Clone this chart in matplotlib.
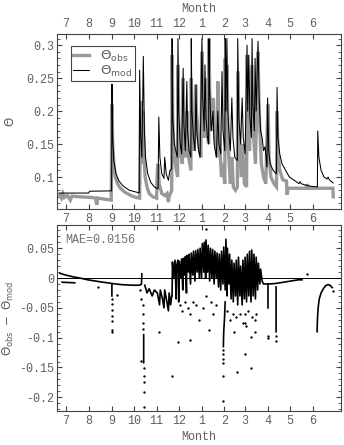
"""
Observed vs modelled soil moisture and their residual
"""

import numpy as np
import matplotlib
matplotlib.use('Agg')
import matplotlib.pyplot as plt
from matplotlib.ticker import FixedLocator, MultipleLocator, FuncFormatter

# days since 1 July; month starts used as ticks
month_start = [0, 31, 62, 92, 123, 153, 184, 215, 243, 274, 304, 335]
month_label = ['7', '8', '9', '10', '11', '12', '1', '2', '3', '4', '5', '6']

# modelled theta (vertices)
mod_day = [-8, 31, 32, 62, 62.5, 63.5, 65, 68, 72, 78, 86, 99.5,
           100, 101.5, 103, 104, 105, 106.5, 108, 111, 115, 120, 125,
           126, 127.5, 130, 133, 134, 136, 139, 141, 143.5,
           144, 145, 147, 149, 151, 152, 153, 155, 157, 159, 160, 162,
           164, 165, 167, 169.5, 170, 171, 173, 175, 176.4, 177.5, 180,
           182, 184.5, 185.5, 187.5, 188.6, 190, 192, 193.5, 194, 195,
           197, 199.5, 201, 204, 206, 207.5, 210, 211.7, 213, 215.5, 216,
           217, 218.3, 219.5, 221.5, 223, 225, 226.5, 229, 232.5, 233,
           234.5, 237, 239, 240.5, 243, 245.6, 246.5, 248, 249.5, 251.5,
           252.4, 253.5, 255.5, 256.5, 258, 260.5, 262, 264, 266, 268,
           270, 272.6, 273.5, 275, 277, 281, 285.5, 286.3, 287.5, 290,
           293, 297, 303, 311, 316, 317.5, 319, 324, 332, 341, 341.5,
           343, 346, 350, 354, 355.5, 357, 362.3]
mod_val = [0.0757, 0.0757, 0.0785, 0.079, 0.241, 0.16, 0.125, 0.105, 0.094,
           0.086, 0.080, 0.076,
           0.262, 0.16, 0.13, 0.20, 0.283, 0.17, 0.13, 0.105, 0.092, 0.085,
           0.082,
           0.191, 0.13, 0.105, 0.098, 0.13, 0.105, 0.095, 0.11, 0.112,
           0.31, 0.19, 0.15, 0.14, 0.13, 0.31, 0.2, 0.15, 0.135, 0.265,
           0.18, 0.14,
           0.245, 0.17, 0.14, 0.13, 0.31, 0.2, 0.16, 0.14, 0.24, 0.17, 0.14,
           0.13, 0.31, 0.22, 0.17, 0.27, 0.19, 0.16, 0.15, 0.31, 0.23,
           0.17, 0.20, 0.15, 0.13, 0.2, 0.15, 0.135, 0.26, 0.17, 0.14, 0.31,
           0.2, 0.31, 0.2, 0.16, 0.14, 0.22, 0.16, 0.13, 0.125, 0.31,
           0.19, 0.15, 0.22, 0.16, 0.135, 0.30, 0.2, 0.285, 0.19, 0.16,
           0.31, 0.21, 0.17, 0.28, 0.2, 0.306, 0.22, 0.17, 0.16, 0.14,
           0.146, 0.115, 0.22, 0.14, 0.12, 0.11, 0.105, 0.236, 0.16, 0.135,
           0.12, 0.112, 0.10, 0.094, 0.09, 0.093, 0.09, 0.088, 0.086, 0.085,
           0.17, 0.13, 0.11, 0.10, 0.097, 0.100, 0.096, 0.091]

# observed theta
obs_day = [-9, -6, -4, -2, 2, 6, 8, 20, 35, 40, 42, 43, 55, 61.5,
           62.4, 63.5, 65, 67, 70, 74, 80, 88, 95, 100,
           100.6, 101.5, 102.5, 103, 104, 105, 106, 107.5, 110, 113, 118,
           123, 124, 125, 126.5, 130, 134, 137, 139, 140, 143.5,
           144, 145, 147, 150, 151.5, 152, 153, 155, 158, 159, 160, 163,
           164, 165, 169.5, 170, 171, 174, 176, 177, 180, 183, 184.5,
           185.5, 188, 189, 190, 193.5, 194, 195, 198, 200, 201.5, 205.5,
           206, 207.5, 211, 212, 215.5, 216, 217, 218.5, 220, 223, 225,
           227, 230, 232.5, 233, 234.5, 238, 239.5, 242, 245, 245.6, 247,
           249, 252, 253.5, 257, 260.5, 262, 265, 268, 271, 274, 275.5,
           278, 282, 285.5, 286.3, 287.5, 290, 294, 299, 300, 301, 320,
           326, 327, 329, 362, 362.5]
obs_val = [0.074, 0.068, 0.075, 0.069, 0.072, 0.065, 0.071, 0.07, 0.069,
           0.068, 0.058, 0.068, 0.066, 0.065,
           0.21, 0.15, 0.12, 0.1, 0.09, 0.083, 0.077, 0.072, 0.069, 0.068,
           0.12, 0.215, 0.15, 0.19, 0.12, 0.2, 0.13, 0.10, 0.085, 0.075,
           0.07, 0.068, 0.11, 0.12, 0.09, 0.075, 0.072, 0.075, 0.062, 0.07,
           0.08,
           0.285, 0.18, 0.13, 0.11, 0.10, 0.27, 0.19, 0.14, 0.12, 0.25,
           0.17, 0.13, 0.20, 0.14, 0.11, 0.25, 0.18, 0.14, 0.24, 0.2, 0.15,
           0.13, 0.29, 0.22, 0.16, 0.25, 0.19, 0.15, 0.31, 0.23, 0.17,
           0.22, 0.17, 0.13, 0.245, 0.17, 0.10, 0.12, 0.09, 0.28, 0.2,
           0.27, 0.15, 0.09, 0.13, 0.085, 0.08, 0.085, 0.26, 0.17, 0.10,
           0.15, 0.09, 0.085, 0.285, 0.2, 0.14, 0.27, 0.18, 0.12, 0.29,
           0.2, 0.12, 0.1, 0.09, 0.21, 0.13, 0.1, 0.09, 0.085, 0.20, 0.14,
           0.11, 0.096, 0.094, 0.073, 0.083, 0.083, 0.083, 0.089, 0.083,
           0.083, 0.07]

# residual obs - mod, dense stretches (NaN breaks the line)
res_day = [-8, 0, 10, 19, 30, 45, 62, 75, 90, 100, 102.5, 103, np.nan,
           -5, 12, np.nan,
           62.4, 62.4, np.nan,
           105.5, 105.5, np.nan,
           107, 110, 113, 117, 120, 124, 127, 128, 131, 133, 134, 137, 139,
           140, 142, 143.5,
           144, 144.5, 146, 148, 149.5, 150, 152, 153, 154, 156, 157,
           158.5, 159, 161, 162, 163.5, 164, 166, 167, 169, 170, 172, 173,
           175, 176, 178, 179, 181, 182, 184, 185, 187, 188, 189.5, 190,
           192, 193, 195, 196, 198, 199, 201, 202, 204, 205, 207, 208, 210,
           211, 213, 214, 216, 217, 218.5, 219, 221, 222, 224, 225, 227,
           228, 230, 231, 233, 234, 236, 237, 239, 240, 242, 243, 245, 246,
           248, 249, 251, 252, 254, 255, 257, 258, 260, 261, 263, 264, 266,
           268, 275, 285, 295, 305, 315, 320, np.nan,
           216, 215, 214, 213.5, np.nan,
           274, 274, np.nan,
           285, 285, np.nan,
           340.6, 341, 342, 343.5, 346, 349, 352, 355, 358, 361]
res_val = [0.008, 0.005, 0.002, 0.0, -0.003, -0.006, -0.009, -0.011, -0.012,
           -0.012, -0.01, 0.007, np.nan,
           -0.007, -0.008, np.nan,
           -0.01, -0.03, np.nan,
           -0.095, -0.142, np.nan,
           -0.012, -0.025, -0.018, -0.03, -0.02, -0.025, -0.045, -0.02,
           -0.035, -0.05, -0.02, -0.04, -0.055, -0.025, -0.045, -0.03,
           -0.03, 0.027, 0.0, 0.03, -0.035, 0.02, 0.03, -0.04, 0.028, 0.0,
           0.032, -0.02, 0.033, 0.005, 0.036, -0.025, 0.038, 0.01, 0.04,
           -0.01, 0.042, 0.005, 0.045, -0.005, 0.046, 0.01, 0.048, 0.0,
           0.05, 0.0, 0.058, 0.01, 0.06, 0.0, 0.064, 0.01, 0.055, -0.005,
           0.05, 0.0, 0.048, -0.01, 0.045, 0.0, 0.042, -0.015, 0.04, -0.02,
           0.045, -0.01, 0.052, -0.02, 0.065, -0.03, 0.05, -0.01, 0.04,
           -0.035, 0.03, -0.04, 0.025, -0.03, 0.03, -0.045, 0.035, -0.03,
           0.02, -0.045, 0.03, -0.035, 0.035, -0.04, 0.04, -0.03, 0.045,
           -0.04, 0.047, -0.03, 0.04, -0.035, 0.035, -0.02, 0.025, -0.01,
           0.015, -0.005, -0.01, -0.01, -0.009, -0.007, -0.005, -0.003,
           -0.003, np.nan,
           -0.04, -0.07, -0.09, -0.115, np.nan,
           -0.01, -0.05, np.nan,
           -0.015, -0.09, np.nan,
           -0.09, -0.07, -0.05, -0.035, -0.025, -0.018, -0.013, -0.011,
           -0.012, -0.016]

# isolated residual points
dot_day = [43, 62.4, 62.4, 62.4, 62.4, 62.4, 62.4, 62.4, 69,
           101, 102, 104, 104, 104.5, 105, 101.5,
           106, 106, 106, 106, 106, 126, 144, 152, 168, 194,
           155, 157, 161, 165, 168, 172, 176, 180, 186, 190, 197, 200,
           204, 218, 222, 226, 228, 231, 236, 240, 244, 247, 253, 256, 258,
           213.5, 213.5, 213.5, 213.5, 213.5, 213.5, 232, 243, 243, 243,
           251, 251, 256, 274, 274, 285, 285, 327, 190, 362]
dot_val = [-0.015, -0.035, -0.044, -0.054, -0.064, -0.072, -0.087, -0.09,
           -0.029,
           -0.02, -0.035, -0.045, -0.06, -0.075, -0.085, -0.139,
           -0.151, -0.164, -0.174, -0.191, -0.216, -0.09, -0.164, -0.107,
           -0.104, -0.087,
           -0.045, -0.055, -0.04, -0.05, -0.06, -0.04, -0.045, -0.07,
           -0.05, -0.03, -0.04, -0.06, -0.045, -0.055, -0.07, -0.06, -0.09,
           -0.065, -0.06, -0.075, -0.08, -0.055, -0.065, -0.07, -0.06,
           -0.121, -0.128, -0.135, -0.143, -0.164, -0.206, -0.157, -0.128,
           -0.06, -0.075, -0.099, -0.151, -0.09, -0.097, -0.1, -0.098,
           -0.106, 0.007, 0.082, -0.022]

mae_text = 'MAE=0.0156'

txt_color = '#606060'
plt.rcParams['font.family'] = ['Liberation Mono', 'DejaVu Sans']
plt.rcParams['font.size'] = 8.5
plt.rcParams['text.color'] = txt_color
plt.rcParams['axes.labelcolor'] = txt_color
plt.rcParams['xtick.color'] = '#444444'
plt.rcParams['ytick.color'] = '#444444'
plt.rcParams['xtick.labelcolor'] = txt_color
plt.rcParams['ytick.labelcolor'] = txt_color
plt.rcParams['axes.edgecolor'] = '#444444'


def fmt(v, pos):
    return '%g' % round(v, 4)


def style_axes(ax, top_labels, bottom_labels):
    ax.set_xlim(-12, 373)
    ax.xaxis.set_major_locator(FixedLocator(month_start))
    ax.set_xticks(month_start)
    ax.set_xticklabels(month_label)
    ax.tick_params(axis='x', which='both', direction='in', top=True,
                   bottom=True, labeltop=top_labels,
                   labelbottom=bottom_labels, length=3.5, pad=3)
    ax.yaxis.set_minor_locator(MultipleLocator(0.01))
    ax.yaxis.set_major_formatter(FuncFormatter(fmt))
    ax.tick_params(axis='y', which='major', direction='in', left=True,
                   right=True, length=3.5, pad=2)
    ax.tick_params(axis='y', which='minor', direction='in', left=True,
                   right=True, length=2)
    for s in ax.spines.values():
        s.set_linewidth(0.8)


fig = plt.figure(figsize=(3.44, 4.45), dpi=100)
ax1 = fig.add_axes([0.1657, 0.5303, 0.8256, 0.3933])
ax2 = fig.add_axes([0.1657, 0.0764, 0.8256, 0.418])

# top panel
ax1.plot(obs_day, obs_val, color='#999999', lw=2.4,
         label=r'$\Theta_{\rm obs}$', solid_joinstyle='miter')
ax1.plot(mod_day, mod_val, color='black', lw=0.75,
         label=r'$\Theta_{\rm mod}$')
ax1.set_ylim(0.0515, 0.317)
ax1.set_yticks([0.1, 0.15, 0.2, 0.25, 0.3])
style_axes(ax1, True, True)
ax1.xaxis.set_label_position('top')
ax1.set_xlabel('Month', labelpad=4)
ax1.set_ylabel(r'$\Theta$', labelpad=7)
leg = ax1.legend(loc='upper left', bbox_to_anchor=(0.025, 0.97),
                 handlelength=1.2, handletextpad=0.8, borderpad=0.2,
                 labelspacing=0.0, fancybox=False, framealpha=1,
                 edgecolor='#444444', fontsize=9.5)
leg.get_frame().set_linewidth(0.8)

# bottom panel
ax2.axhline(0, color='black', lw=0.7)
ax2.plot(res_day, res_val, color='black', lw=1.2)
ax2.plot(dot_day, dot_val, 'o', color='black', ms=1.7, mew=0)
ax2.set_ylim(-0.223, 0.089)
ax2.set_yticks([-0.2, -0.15, -0.1, -0.05, 0, 0.05])
style_axes(ax2, False, True)
ax2.set_xlabel('Month', labelpad=3)
ax2.set_ylabel(r'$\Theta_{\rm obs}\ -\ \Theta_{\rm mod}$', labelpad=2)
ax2.text(0.03, 0.92, mae_text, transform=ax2.transAxes, ha='left',
         va='center', color='#707070')

fig.savefig('out.png', dpi=100)
plt.close(fig)
